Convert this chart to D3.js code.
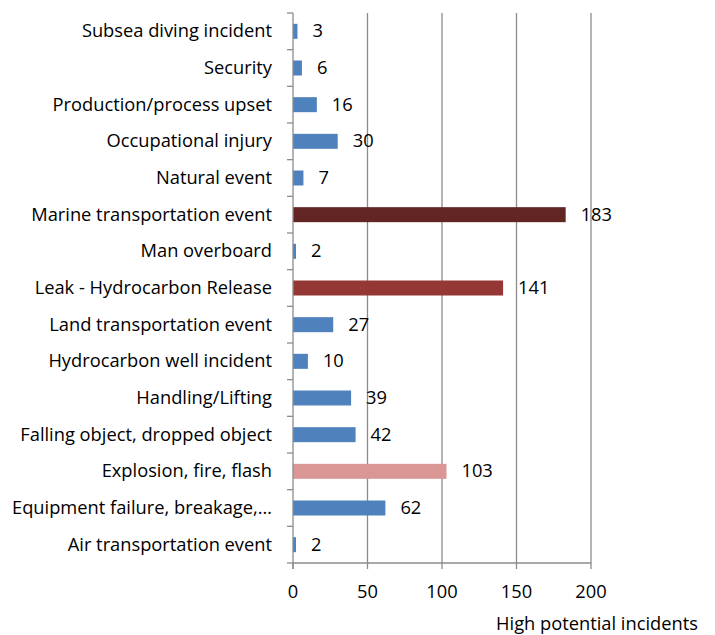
<!DOCTYPE html>
<html>
<head>
<meta charset="utf-8">
<script src="https://cdn.jsdelivr.net/npm/d3@7"></script>
<style>
  html, body { margin: 0; padding: 0; background: #fff; }
  svg { display: block; }
  text { font-family: "Open Sans", sans-serif; fill: #000; }
</style>
</head>
<body>
<script>
// Incident categories, listed bottom to top as in the chart
const categories = [
  "Air transportation event",
  "Equipment failure, breakage,\u2026",
  "Explosion, fire, flash",
  "Falling object, dropped object",
  "Handling/Lifting",
  "Hydrocarbon well incident",
  "Land transportation event",
  "Leak - Hydrocarbon Release",
  "Man overboard",
  "Marine transportation event",
  "Natural event",
  "Occupational injury",
  "Production/process upset",
  "Security",
  "Subsea diving incident"
];
const values = [2, 62, 103, 42, 39, 10, 27, 141, 2, 183, 7, 30, 16, 6, 3];
const barColors = [
  "#4f81bd", "#4f81bd", "#d99694", "#4f81bd", "#4f81bd", "#4f81bd", "#4f81bd",
  "#953735", "#4f81bd", "#632523", "#4f81bd", "#4f81bd", "#4f81bd", "#4f81bd", "#4f81bd"
];
const xTicks = [0, 50, 100, 150, 200];
const axisTitle = "High potential incidents";

const W = 715, H = 635;
const plot = { left: 293, right: 591, top: 13, bottom: 563 };
const FS = 18.3;

const svg = d3.select("body").append("svg").attr("width", W).attr("height", H);

const x = d3.scaleLinear().domain([0, 200]).range([plot.left, plot.right]);
const band = d3.scaleBand().domain(categories.slice().reverse()).range([plot.top, plot.bottom]);

// vertical gridlines
svg.append("g").selectAll("line")
  .data(xTicks.slice(1))
  .join("line")
  .attr("x1", d => x(d)).attr("x2", d => x(d))
  .attr("y1", plot.top).attr("y2", plot.bottom)
  .attr("stroke", "#8c8c8c").attr("stroke-width", 1.3);

// bars
const rows = categories.map((c, i) => ({ c, v: values[i], col: barColors[i] }));
svg.append("g").selectAll("rect")
  .data(rows)
  .join("rect")
  .attr("x", x(0))
  .attr("y", d => band(d.c) + band.bandwidth() / 2 - 7.5)
  .attr("width", d => x(d.v) - x(0))
  .attr("height", 15)
  .attr("fill", d => d.col);

// value labels
svg.append("g").selectAll("text")
  .data(rows)
  .join("text")
  .attr("x", d => x(d.v) + 15)
  .attr("y", d => band(d.c) + band.bandwidth() / 2 + 1)
  .attr("dominant-baseline", "middle")
  .attr("font-size", FS)
  .text(d => d.v);

// category axis
const gy = svg.append("g").attr("transform", `translate(${plot.left},0)`);
gy.append("line")
  .attr("x1", 0).attr("x2", 0).attr("y1", plot.top).attr("y2", plot.bottom + 6)
  .attr("stroke", "#8c8c8c").attr("stroke-width", 1.3);
// ticks at band boundaries
const bounds = d3.range(categories.length + 1).map(i => plot.top + i * band.step());
gy.selectAll("line.tk").data(bounds).join("line").attr("class", "tk")
  .attr("x1", -6).attr("x2", 0).attr("y1", d => d).attr("y2", d => d)
  .attr("stroke", "#8c8c8c").attr("stroke-width", 1.3);
gy.selectAll("text").data(categories).join("text")
  .attr("x", -21)
  .attr("y", d => band(d) + band.bandwidth() / 2 + 1)
  .attr("text-anchor", "end")
  .attr("dominant-baseline", "middle")
  .attr("font-size", FS)
  .text(d => d);

// value axis
const gx = svg.append("g").attr("transform", `translate(0,${plot.bottom})`);
gx.append("line")
  .attr("x1", plot.left).attr("x2", plot.right).attr("y1", 0).attr("y2", 0)
  .attr("stroke", "#8c8c8c").attr("stroke-width", 1.3);
gx.selectAll("line.tk").data(xTicks).join("line").attr("class", "tk")
  .attr("x1", d => x(d)).attr("x2", d => x(d)).attr("y1", 0).attr("y2", 6)
  .attr("stroke", "#8c8c8c").attr("stroke-width", 1.3);
gx.selectAll("text").data(xTicks).join("text")
  .attr("x", d => x(d))
  .attr("y", 30)
  .attr("text-anchor", "middle")
  .attr("dominant-baseline", "middle")
  .attr("font-size", FS)
  .text(d => d);

svg.append("text")
  .attr("x", 597).attr("y", 625)
  .attr("text-anchor", "middle")
  .attr("dominant-baseline", "middle")
  .attr("font-size", FS)
  .text(axisTitle);
</script>
</body>
</html>
